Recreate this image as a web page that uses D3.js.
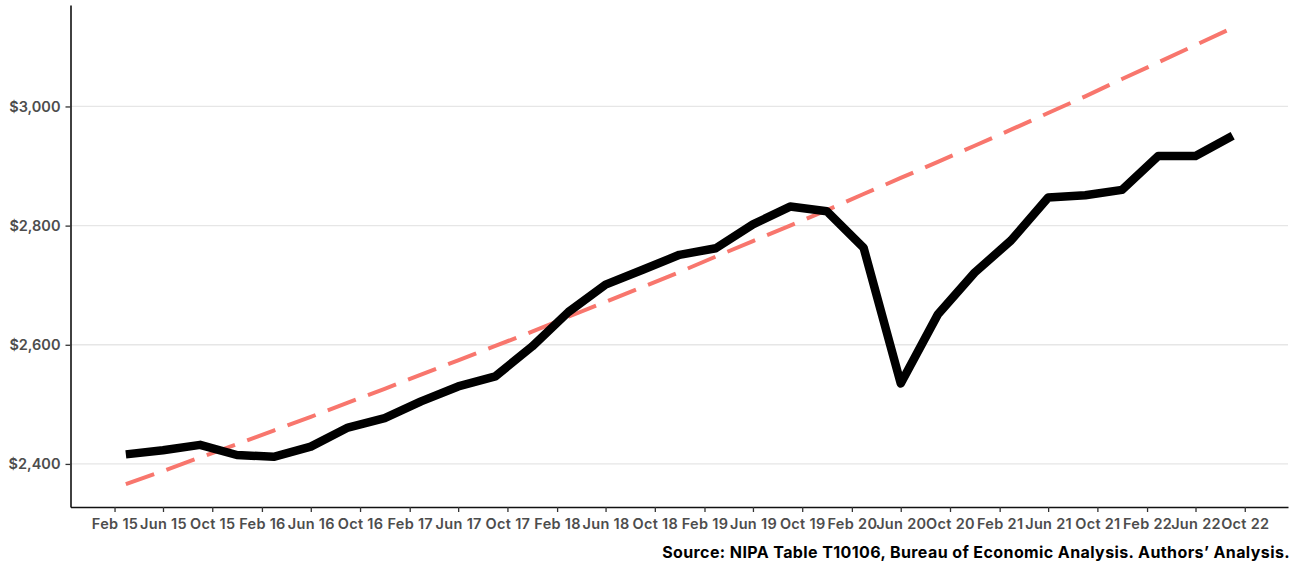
<!DOCTYPE html>
<html>
<head>
<meta charset="utf-8">
<script src="https://cdn.jsdelivr.net/npm/d3@7"></script>
<style>
  html, body { margin: 0; padding: 0; background: #ffffff; }
  svg { display: block; font-family: Inter, "Noto Sans", sans-serif; }
</style>
</head>
<body>
<svg id="chart" width="1294" height="565"></svg>
<script>
// Quarterly observation dates
const dates = [
  "2015-03-01","2015-06-01","2015-09-01","2015-12-01",
  "2016-03-01","2016-06-01","2016-09-01","2016-12-01",
  "2017-03-01","2017-06-01","2017-09-01","2017-12-01",
  "2018-03-01","2018-06-01","2018-09-01","2018-12-01",
  "2019-03-01","2019-06-01","2019-09-01","2019-12-01",
  "2020-03-01","2020-06-01","2020-09-01","2020-12-01",
  "2021-03-01","2021-06-01","2021-09-01","2021-12-01",
  "2022-03-01","2022-06-01","2022-09-01"
];
// Actual series (black solid line)
const actual = [
  2416, 2423, 2432, 2415, 2412, 2429, 2461, 2477,
  2505, 2530, 2547, 2597, 2655, 2701, 2726, 2751,
  2762, 2802, 2832, 2824, 2763, 2535, 2651, 2721,
  2775, 2847, 2851, 2860, 2917, 2917, 2951
];
// Pre-pandemic trend (red dashed line)
const trend = [
  2366, 2388, 2411, 2433, 2456, 2479, 2503, 2526,
  2550, 2574, 2598, 2622, 2647, 2672, 2697, 2722,
  2748, 2774, 2800, 2826, 2853, 2880, 2907, 2934,
  2961, 2989, 3017, 3046, 3074, 3103, 3132
];
// Axis ticks
const xTickDates = [
  "2015-02-01","2015-06-01","2015-10-01",
  "2016-02-01","2016-06-01","2016-10-01",
  "2017-02-01","2017-06-01","2017-10-01",
  "2018-02-01","2018-06-01","2018-10-01",
  "2019-02-01","2019-06-01","2019-10-01",
  "2020-02-01","2020-06-01","2020-10-01",
  "2021-02-01","2021-06-01","2021-10-01",
  "2022-02-01","2022-06-01","2022-10-01"
];
const yTicks = [2400, 2600, 2800, 3000];
const sourceText = "Source: NIPA Table T10106, Bureau of Economic Analysis. Authors\u2019 Analysis.";

const parse = d3.timeParse("%Y-%m-%d");
const dts = dates.map(parse);
const xt = xTickDates.map(parse);

const svg = d3.select("#chart");
const plot = { left: 70.5, right: 1288, top: 5, bottom: 507 };

// ggplot-like 5% expansion
const xExt = d3.extent(dts);
const xSpan = xExt[1] - xExt[0];
const x = d3.scaleTime()
  .domain([new Date(+xExt[0] - 0.05 * xSpan), new Date(+xExt[1] + 0.05 * xSpan)])
  .range([plot.left, plot.right]);

const yExt = d3.extent(actual.concat(trend));
const ySpan = yExt[1] - yExt[0];
const y = d3.scaleLinear()
  .domain([yExt[0] - 0.05 * ySpan, yExt[1] + 0.05 * ySpan])
  .range([plot.bottom, plot.top]);

// Gridlines
svg.append("g")
  .selectAll("line")
  .data(yTicks)
  .join("line")
  .attr("x1", plot.left)
  .attr("x2", plot.right)
  .attr("y1", d => y(d))
  .attr("y2", d => y(d))
  .attr("stroke", "#e6e6e6")
  .attr("stroke-width", 1.3);

// Trend line
const lineGen = d3.line()
  .x(d => x(d[0]))
  .y(d => y(d[1]));

svg.append("path")
  .datum(dts.map((d, i) => [d, trend[i]]))
  .attr("d", lineGen)
  .attr("fill", "none")
  .attr("stroke", "#F8766D")
  .attr("stroke-width", 4)
  .attr("stroke-dasharray", "30,13");

// Actual line
svg.append("path")
  .datum(dts.map((d, i) => [d, actual[i]]))
  .attr("d", lineGen)
  .attr("fill", "none")
  .attr("stroke", "#000000")
  .attr("stroke-width", 8.5)
  .attr("stroke-linejoin", "round")
  .attr("stroke-linecap", "butt");

// Axes
const xAxis = d3.axisBottom(x)
  .tickValues(xt)
  .tickFormat(d3.timeFormat("%b %y"))
  .tickSizeInner(5)
  .tickSizeOuter(0)
  .tickPadding(7);

const gx = svg.append("g")
  .attr("transform", `translate(0,${plot.bottom})`)
  .call(xAxis);
gx.select(".domain").attr("stroke", "#111").attr("stroke-width", 1.6);
gx.selectAll(".tick line").attr("stroke", "#333").attr("stroke-width", 1.3);
gx.selectAll(".tick text")
  .attr("fill", "#4d4d4d")
  .style("font-family", "Inter, 'Noto Sans', sans-serif")
  .style("font-size", "14.5px")
  .style("font-weight", "600")
  .style("letter-spacing", "0.3px");

const yAxis = d3.axisLeft(y)
  .tickValues(yTicks)
  .tickFormat(d => "$" + d3.format(",")(d))
  .tickSizeInner(5)
  .tickSizeOuter(0)
  .tickPadding(5);

const gy = svg.append("g")
  .attr("transform", `translate(${plot.left},0)`)
  .call(yAxis);
gy.select(".domain").attr("stroke", "#111").attr("stroke-width", 1.6);
gy.selectAll(".tick line").attr("stroke", "#333").attr("stroke-width", 1.3);
gy.selectAll(".tick text")
  .attr("fill", "#4d4d4d")
  .style("font-family", "Inter, 'Noto Sans', sans-serif")
  .style("font-size", "14.5px")
  .style("font-weight", "600");

// Source caption
svg.append("text")
  .attr("x", 1290)
  .attr("y", 558)
  .attr("text-anchor", "end")
  .attr("fill", "#000")
  .style("font-family", "Inter, 'Noto Sans', sans-serif")
  .style("font-size", "16px")
  .style("font-weight", "700")
  .style("letter-spacing", "0.4px")
  .text(sourceText);
</script>
</body>
</html>
